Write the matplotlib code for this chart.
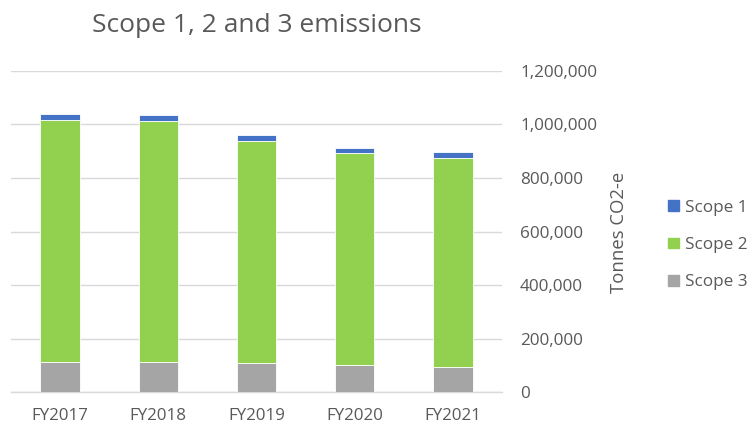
import matplotlib
matplotlib.use("Agg")
import matplotlib.pyplot as plt
from matplotlib.ticker import FuncFormatter
from matplotlib.patches import Patch

categories = ["FY2017", "FY2018", "FY2019", "FY2020", "FY2021"]
scope3 = [113000, 114000, 110000, 101000, 93000]
scope2 = [902000, 897000, 827000, 791000, 782000]
scope1 = [22000, 23000, 23000, 21000, 23000]

plt.rcParams['font.family'] = ['Open Sans', 'DejaVu Sans']
txt = '#595959'
c1, c2, c3 = '#4472C4', '#92D050', '#A5A5A5'

fig = plt.figure(figsize=(7.54, 4.25), dpi=100)
ax = fig.add_axes([11/754, 1-392.3/425, (502-11)/754, (392.3-70.7)/425])

x = list(range(len(categories)))
w = 0.4
b2 = scope3
b1 = [a + b for a, b in zip(scope3, scope2)]
ax.bar(x, scope3, w, color=c3, edgecolor='white', linewidth=0.6, zorder=3)
ax.bar(x, scope2, w, bottom=b2, color=c2, edgecolor='white', linewidth=0.6, zorder=3)
ax.bar(x, scope1, w, bottom=b1, color=c1, edgecolor='white', linewidth=0.6, zorder=3)

ax.set_xlim(-0.5, len(categories) - 0.5)
ax.set_ylim(0, 1200000)
ax.set_yticks(range(0, 1200001, 200000))
ax.yaxis.set_major_formatter(FuncFormatter(lambda v, p: f"{int(v):,}"))
ax.yaxis.tick_right()
ax.tick_params(axis='y', length=0, pad=13, labelsize=12.3, labelcolor=txt)
ax.set_xticks(x)
ax.set_xticklabels(categories)
ax.tick_params(axis='x', length=0, pad=11, labelsize=12.2, labelcolor=txt)
ax.grid(axis='y', color='#d9d9d9', linewidth=1, zorder=0)
for s in ['top', 'left', 'right']:
    ax.spines[s].set_visible(False)
ax.spines['bottom'].set_color('#d9d9d9')
ax.spines['bottom'].set_linewidth(1)

fig.text(257/754, 1-26/425, "Scope 1, 2 and 3 emissions", ha='center', va='center',
         fontsize=19, color=txt)
fig.text(619/754, 1-232/425, "Tonnes CO2-e", rotation=90, ha='center', va='center',
         fontsize=13.3, color=txt)

handles = [Patch(color=c1, label='Scope 1'), Patch(color=c2, label='Scope 2'),
           Patch(color=c3, label='Scope 3')]
fig.legend(handles=handles, loc='center left', bbox_to_anchor=(653/754, 1-245/425),
           frameon=False, handlelength=0.6, handleheight=0.6, handletextpad=0.4,
           labelspacing=1.25, fontsize=12.3, labelcolor=txt)

fig.savefig("out.png", dpi=100)
